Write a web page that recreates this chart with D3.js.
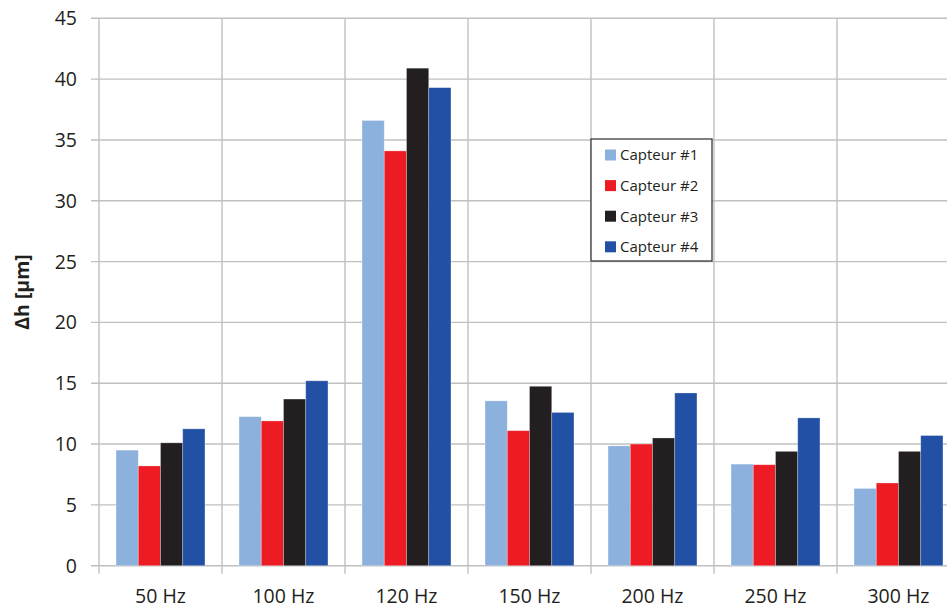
<!DOCTYPE html>
<html>
<head>
<meta charset="utf-8">
<script src="https://cdn.jsdelivr.net/npm/d3@7"></script>
<style>
  html, body { margin: 0; padding: 0; background: #fff; }
  svg { display: block; }
  text { font-family: "Open Sans", sans-serif; fill: #231f20; }
</style>
</head>
<body>
<svg id="chart" width="947" height="611"></svg>
<script>
const categories = ["50 Hz", "100 Hz", "120 Hz", "150 Hz", "200 Hz", "250 Hz", "300 Hz"];
const seriesNames = ["Capteur #1", "Capteur #2", "Capteur #3", "Capteur #4"];
const capteur1 = [9.5, 12.25, 36.6, 13.55, 9.85, 8.35, 6.35];
const capteur2 = [8.2, 11.9, 34.1, 11.1, 10.0, 8.3, 6.8];
const capteur3 = [10.1, 13.7, 40.9, 14.75, 10.5, 9.4, 9.4];
const capteur4 = [11.25, 15.2, 39.3, 12.6, 14.2, 12.15, 10.7];
const yTicks = [0, 5, 10, 15, 20, 25, 30, 35, 40, 45];
const colors = ["#8db1dd", "#ed1c24", "#231f20", "#2250a4"];

const seriesValues = [capteur1, capteur2, capteur3, capteur4];
const svg = d3.select("#chart");

const plotLeft = 99, plotTop = 18.3, plotBottom = 565.7, catW = 123;
const x0 = d3.scaleBand().domain(categories).range([plotLeft, plotLeft + catW * categories.length]).paddingInner(0).paddingOuter(0);
const bw = x0.bandwidth();
const x1 = d3.scaleBand().domain(seriesNames).range([bw * 0.1385, bw * 0.8615]).padding(0);
const y = d3.scaleLinear().domain([0, 45]).range([plotBottom, plotTop]);

// horizontal grid
svg.append("g").selectAll("line").data(yTicks).join("line")
  .attr("x1", 91).attr("x2", 947)
  .attr("y1", d => y(d)).attr("y2", d => y(d))
  .attr("stroke", "#c0c0c0").attr("stroke-width", 1.4);

// vertical grid (category boundaries)
const bounds = categories.map(c => x0(c)).concat([x0.range()[1]]);
svg.append("g").selectAll("line").data(bounds).join("line")
  .attr("x1", d => d).attr("x2", d => d)
  .attr("y1", plotTop).attr("y2", plotBottom + 8)
  .attr("stroke", "#c0c0c0").attr("stroke-width", 1.4);

// bars
const groups = svg.append("g").selectAll("g").data(categories).join("g")
  .attr("transform", c => `translate(${x0(c)},0)`);
groups.selectAll("rect")
  .data((c, i) => seriesNames.map((s, j) => ({ s, j, v: seriesValues[j][i] })))
  .join("rect")
  .attr("x", d => x1(d.s))
  .attr("width", x1.bandwidth())
  .attr("y", d => y(d.v))
  .attr("height", d => y(0) - y(d.v))
  .attr("fill", d => colors[d.j])
  .attr("stroke", "rgba(255,255,255,0.35)")
  .attr("stroke-width", 0.8);

// y tick labels
svg.append("g").selectAll("text").data(yTicks).join("text")
  .attr("x", 77).attr("y", d => y(d))
  .attr("dy", "0.36em")
  .attr("text-anchor", "end")
  .attr("font-size", 19.5)
  .text(d => d);

// x labels
svg.append("g").selectAll("text").data(categories).join("text")
  .attr("x", c => x0(c) + bw / 2)
  .attr("y", 603)
  .attr("text-anchor", "middle")
  .attr("font-size", 19.5)
  .text(c => c);

// y axis title
svg.append("text")
  .attr("transform", `translate(29,${(plotTop + plotBottom) / 2}) rotate(-90)`)
  .attr("text-anchor", "middle")
  .attr("font-size", 19.5)
  .attr("font-weight", "bold")
  .text("Δh [µm]");

// legend
const lg = svg.append("g").attr("transform", "translate(591,139)");
lg.append("rect").attr("x", 0).attr("y", 0).attr("width", 121).attr("height", 122)
  .attr("fill", "#fff").attr("stroke", "#3a3a3a").attr("stroke-width", 1.3);
const items = lg.selectAll("g.item").data(seriesNames).join("g").attr("class", "item")
  .attr("transform", (d, i) => `translate(0,${16 + i * 30.6})`);
items.append("rect").attr("x", 14).attr("y", -5.5).attr("width", 11).attr("height", 11)
  .attr("fill", (d, i) => colors[i]);
items.append("text").attr("x", 29).attr("y", 0).attr("dy", "0.36em")
  .attr("font-size", 15).text(d => d);
</script>
</body>
</html>
